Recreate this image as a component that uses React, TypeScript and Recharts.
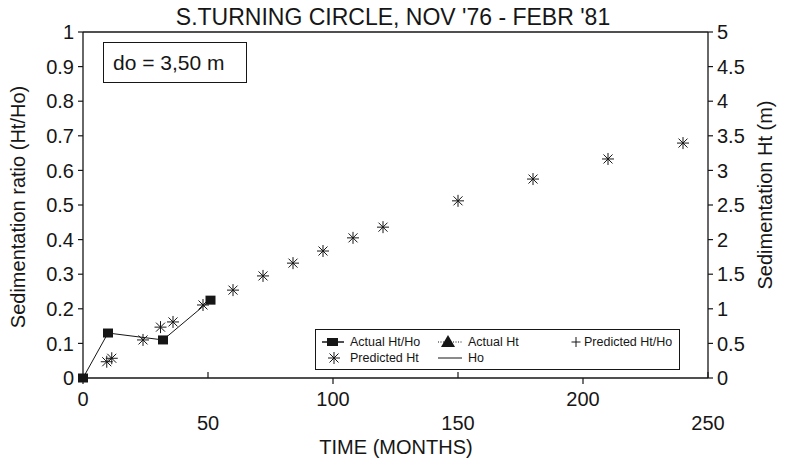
import React from 'react'
import {
  ComposedChart,
  Line,
  Scatter,
  XAxis,
  YAxis,
  ReferenceLine,
  Legend,
} from 'recharts'

const FONT = '"Liberation Sans", Arial, Helvetica, sans-serif'
const INK = '#161616'

// measured series (months since Nov '76)
const ACTUAL_MONTHS = [0, 10, 32, 51]
const ACTUAL_RATIO = [0, 0.13, 0.11, 0.225]

// predicted sedimentation height, metres (right axis)
const PRED_MONTHS = [9.5, 11.5, 24, 31, 36, 48, 60, 72, 84, 96, 108, 120, 150, 180, 210, 240]
const PRED_HT = [0.235, 0.285, 0.55, 0.735, 0.81, 1.055, 1.27, 1.475, 1.66, 1.835, 2.025, 2.18, 2.56, 2.875, 3.165, 3.395]

const X_TICKS = [0, 50, 100, 150, 200, 250]
const RATIO_TICKS = [0, 0.1, 0.2, 0.3, 0.4, 0.5, 0.6, 0.7, 0.8, 0.9, 1]
const HT_TICKS = [0, 0.5, 1, 1.5, 2, 2.5, 3, 3.5, 4, 4.5, 5]

const LEGEND_ROW1 = ['Actual Ht/Ho', 'Actual Ht', 'Predicted Ht/Ho']
const LEGEND_ROW2 = ['Predicted Ht', 'Ho']

const actualData = ACTUAL_MONTHS.map((m, i) => ({ x: m, ratio: ACTUAL_RATIO[i] }))
const predData = PRED_MONTHS.map((m, i) => ({ x: m, ht: PRED_HT[i] }))

function Asterisk({ cx, cy }: any) {
  if (cx == null || cy == null) return null
  const r = 6
  const d = 4.5
  return (
    <g stroke={INK} strokeWidth={1}>
      <line x1={cx - r} y1={cy} x2={cx + r} y2={cy} />
      <line x1={cx} y1={cy - r} x2={cx} y2={cy + r} />
      <line x1={cx - d} y1={cy - d} x2={cx + d} y2={cy + d} />
      <line x1={cx - d} y1={cy + d} x2={cx + d} y2={cy - d} />
    </g>
  )
}

function SquareDot({ cx, cy, index }: any) {
  if (cx == null || cy == null) return null
  return <rect key={`sq-${index}`} x={cx - 5} y={cy - 4.5} width={10} height={9} fill={INK} />
}

// staggered tick labels: 0/100/200 on the first row, 50/150/250 below
function XTick({ x, y, payload, index }: any) {
  const low = index % 2 === 1
  return (
    <g>
      <line x1={x} x2={x} y1={y} y2={low ? y - 6 : y + 6} stroke={INK} strokeWidth={1.2} />
      <text x={x} y={low ? y + 52 : y + 28} textAnchor="middle" fontSize={20} fill={INK} fontFamily={FONT}>
        {payload.value}
      </text>
    </g>
  )
}

function LegendBox() {
  const y1 = 12
  const y2 = 28
  const cols = [34, 152, 268]
  return (
    <div style={{ width: 365, height: 41, border: `1px solid ${INK}`, boxSizing: 'border-box', background: '#fff' }}>
      <svg width={363} height={39} style={{ display: 'block' }}>
        <g fontFamily={FONT} fontSize={12.5} fill={INK}>
          {/* Actual Ht/Ho */}
          <line x1={6} x2={28} y1={y1} y2={y1} stroke={INK} strokeWidth={1.5} />
          <rect x={11} y={y1 - 4} width={11} height={8} fill={INK} />
          {/* Actual Ht */}
          <line x1={122} x2={146} y1={y1} y2={y1} stroke={INK} strokeDasharray="1 1.5" />
          <polygon points={`${132},${y1 - 7} ${125},${y1 + 5} ${139},${y1 + 5}`} fill={INK} />
          {/* Predicted Ht/Ho */}
          <line x1={255.5} x2={264.5} y1={y1} y2={y1} stroke={INK} />
          <line x1={260} x2={260} y1={y1 - 5} y2={y1 + 5} stroke={INK} />
          {/* Predicted Ht */}
          <Asterisk cx={18} cy={y2} />
          {/* Ho */}
          <line x1={122} x2={146} y1={y2} y2={y2} stroke={INK} />
          {LEGEND_ROW1.map((t, i) => (
            <text key={t} x={cols[i]} y={y1 + 4}>{t}</text>
          ))}
          {LEGEND_ROW2.map((t, i) => (
            <text key={t} x={cols[i]} y={y2 + 4}>{t}</text>
          ))}
        </g>
      </svg>
    </div>
  )
}

export default function App() {
  return (
    <div style={{ position: 'relative', width: 778, height: 457, fontFamily: FONT, color: INK }}>
      <div
        style={{
          position: 'absolute',
          left: 85,
          width: 600,
          top: -4,
          textAlign: 'center',
          fontSize: 23,
          lineHeight: '26px',
          zIndex: 2,
        }}
      >
        S.TURNING CIRCLE, NOV '76 - FEBR '81
      </div>
      <div
        style={{
          position: 'absolute',
          left: 95,
          top: 34,
          width: 144,
          height: 41,
          border: `1px solid ${INK}`,
          boxSizing: 'border-box',
          fontSize: 21,
          lineHeight: '39px',
          paddingLeft: 9,
          zIndex: 2,
        }}
      >
        do = 3,50 m
      </div>
      <ComposedChart
        width={778}
        height={457}
        margin={{ top: 24, right: 8, bottom: 7, left: 0 }}
        style={{ fontFamily: FONT }}
      >
        <XAxis
          dataKey="x"
          type="number"
          domain={[0, 250]}
          ticks={X_TICKS}
          interval={0}
          height={80}
          tickSize={0}
          tickMargin={0}
          tickLine={false}
          axisLine={{ stroke: INK, strokeWidth: 1.3 }}
          tick={<XTick />}
          label={{
            content: () => (
              <text x={388} y={446} textAnchor="middle" fontSize={20} fill={INK} fontFamily={FONT}>
                TIME (MONTHS)
              </text>
            ),
          }}
        />
        <YAxis
          yAxisId="left"
          type="number"
          domain={[0, 1]}
          ticks={RATIO_TICKS}
          interval={0}
          width={75}
          tickSize={5}
          tickMargin={4}
          tickLine={{ stroke: INK, strokeWidth: 1.2 }}
          axisLine={{ stroke: INK, strokeWidth: 1.3 }}
          tick={{ fill: INK, fontSize: 20, fontFamily: FONT }}
          label={{
            content: () => (
              <text x={17} y={199} transform="rotate(-90 17 199)" textAnchor="middle" fontSize={20} fill={INK} fontFamily={FONT}>
                Sedimentation ratio (Ht/Ho)
              </text>
            ),
          }}
        />
        <YAxis
          yAxisId="right"
          orientation="right"
          type="number"
          domain={[0, 5]}
          ticks={HT_TICKS}
          interval={0}
          width={70}
          tickSize={5}
          tickMargin={4}
          tickLine={{ stroke: INK, strokeWidth: 1.2 }}
          axisLine={{ stroke: INK, strokeWidth: 1.3 }}
          tick={{ fill: INK, fontSize: 20, fontFamily: FONT }}
          label={{
            content: () => (
              <text x={764} y={187} transform="rotate(-90 764 187)" textAnchor="middle" fontSize={20} fill={INK} fontFamily={FONT}>
                Sedimentation Ht (m)
              </text>
            ),
          }}
        />
        <ReferenceLine yAxisId="left" y={1} stroke={INK} strokeWidth={1.3} />
        <Line
          yAxisId="left"
          data={actualData}
          dataKey="ratio"
          stroke={INK}
          strokeWidth={1}
          dot={<SquareDot />}
          activeDot={false}
          isAnimationActive={false}
        />
        <Scatter
          yAxisId="right"
          data={predData}
          dataKey="ht"
          shape={<Asterisk />}
          isAnimationActive={false}
        />
        <Legend
          layout="horizontal"
          verticalAlign="middle"
          align="center"
          content={() => <LegendBox />}
          wrapperStyle={{ position: 'absolute', left: 307, top: 321, width: 365, height: 41 }}
        />
      </ComposedChart>
    </div>
  )
}
